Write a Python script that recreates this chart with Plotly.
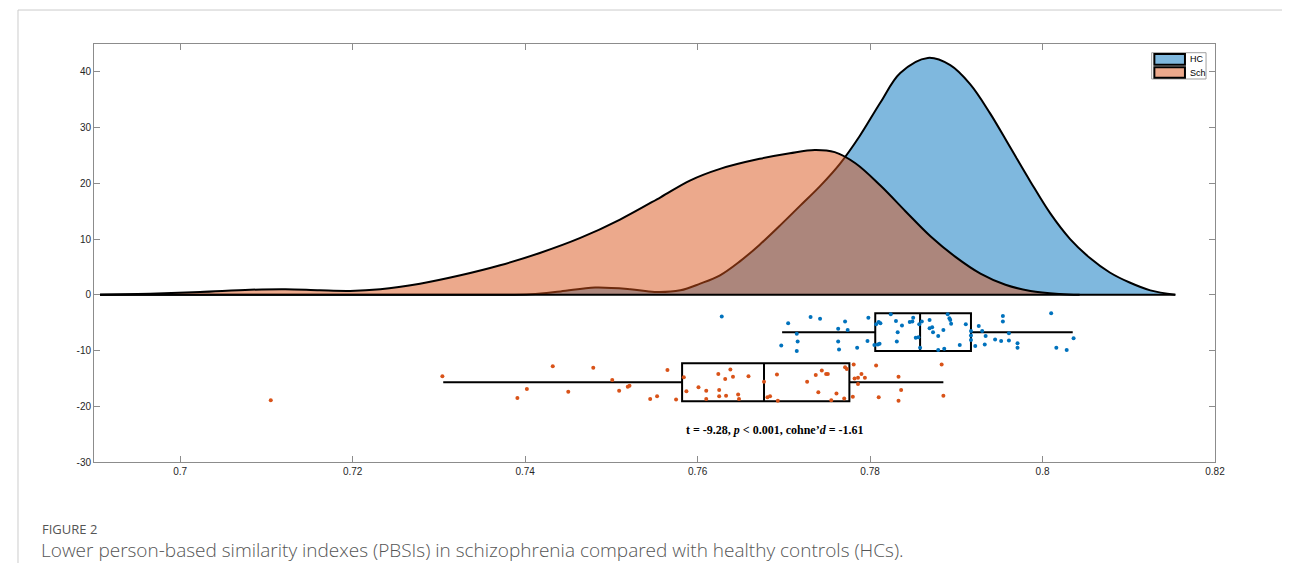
import plotly.graph_objects as go

# ---- density curves ----
hc_curve_x = [0.6907, 0.7300, 0.7406, 0.7441, 0.7481, 0.7522, 0.7550, 0.7580, 0.7603,
              0.7626, 0.7649, 0.7672, 0.7696, 0.7719, 0.7742, 0.7765, 0.7788, 0.7812,
              0.7835, 0.7867, 0.7893, 0.7916, 0.7939, 0.7962, 0.7986, 0.8009, 0.8032,
              0.8055, 0.8078, 0.8101, 0.8125, 0.8154]
hc_curve_y = [0.0, 0.0, 0.1, 0.6, 1.3, 1.0, 0.5, 0.8, 2.0,
              3.5, 6.0, 9.0, 12.5, 16.0, 19.5, 23.5, 28.5, 34.5,
              39.8, 42.5, 41.2, 37.8, 32.6, 26.6, 20.3, 14.6, 10.0,
              6.6, 4.0, 2.2, 0.8, 0.0]

sch_curve_x = [0.6907, 0.6965, 0.7023, 0.7081, 0.7122, 0.7162, 0.7197, 0.7232, 0.7278,
               0.7325, 0.7371, 0.7417, 0.7464, 0.7510, 0.7557, 0.7591, 0.7626, 0.7672,
               0.7707, 0.7736, 0.7759, 0.7783, 0.7812, 0.7841, 0.7870, 0.7899, 0.7928,
               0.7957, 0.7986, 0.8020, 0.8043]
sch_curve_y = [0.0, 0.2, 0.5, 0.9, 1.0, 0.8, 0.7, 1.0, 2.0,
               3.5, 5.3, 7.5, 10.2, 13.5, 17.5, 20.5, 22.6, 24.4,
               25.4, 26.0, 25.6, 23.6, 19.6, 15.0, 10.5, 6.8, 3.8,
               1.8, 0.7, 0.15, 0.0]

# ---- jittered raw points ----
hc_x = [0.7628, 0.7705, 0.7731, 0.7742, 0.7771, 0.7798, 0.7763, 0.7774, 0.7715, 0.7716,
        0.7697, 0.7715, 0.7763, 0.7764, 0.7785, 0.7797, 0.7807, 0.7810, 0.7812, 0.7805,
        0.7809, 0.7811, 0.7824, 0.7830, 0.7832, 0.7831, 0.7837, 0.7846, 0.7849, 0.7850,
        0.7853, 0.7856, 0.7857, 0.7860, 0.7858, 0.7869, 0.7869, 0.7872, 0.7873, 0.7879,
        0.7879, 0.7886, 0.7885, 0.7890, 0.7892, 0.7893, 0.7894, 0.7904, 0.7911, 0.7917,
        0.7917, 0.7917, 0.7922, 0.7926, 0.7930, 0.7934, 0.7933, 0.7945, 0.7952, 0.7954,
        0.7954, 0.7961, 0.7961, 0.7971, 0.7971, 0.8010, 0.8016, 0.8028, 0.8036]
hc_y = [-3.9, -5.1, -4.0, -4.3, -4.8, -4.1, -6.1, -6.3, -7.0, -8.4,
        -9.1, -10.1, -8.4, -9.8, -9.5, -8.3, -5.3, -4.9, -5.1, -9.0,
        -8.9, -8.8, -3.5, -4.7, -6.7, -8.4, -5.5, -4.9, -4.8, -4.1,
        -7.7, -7.6, -5.3, -4.8, -9.5, -4.5, -6.0, -5.8, -6.7, -7.4,
        -9.9, -9.7, -6.3, -3.5, -4.2, -4.5, -5.2, -9.0, -5.3, -6.5,
        -7.3, -8.1, -9.2, -5.6, -6.5, -7.4, -8.9, -8.0, -8.3, -3.8,
        -4.8, -6.9, -8.2, -8.7, -9.5, -3.3, -9.5, -9.9, -7.8]

sch_x = [0.7105, 0.7304, 0.7432, 0.7479, 0.7565, 0.7501, 0.7402, 0.7391, 0.7450, 0.7509,
         0.7519, 0.7521, 0.7545, 0.7553, 0.7575, 0.7584, 0.7587, 0.7601, 0.7610, 0.7610,
         0.7624, 0.7625, 0.7625, 0.7632, 0.7633, 0.7638, 0.7641, 0.7647, 0.7648, 0.7659,
         0.7677, 0.7681, 0.7684, 0.7692, 0.7693, 0.7727, 0.7737, 0.7740, 0.7744, 0.7749,
         0.7751, 0.7755, 0.7761, 0.7770, 0.7771, 0.7773, 0.7780, 0.7781, 0.7782, 0.7786,
         0.7786, 0.7790, 0.7794, 0.7807, 0.7810, 0.7833, 0.7836, 0.7833, 0.7883, 0.7885]
sch_y = [-18.9, -14.6, -12.8, -13.1, -13.5, -15.3, -16.9, -18.5, -17.4, -17.2,
         -16.5, -16.3, -18.7, -18.2, -18.8, -14.8, -17.3, -16.6, -17.2, -18.7,
         -14.2, -17.1, -18.2, -15.1, -18.1, -13.4, -14.7, -17.9, -18.7, -14.6,
         -15.6, -18.4, -18.2, -14.3, -19.0, -15.6, -14.4, -17.5, -13.6, -14.2,
         -14.2, -18.9, -17.7, -18.6, -13.0, -13.3, -18.3, -12.5, -15.0, -14.9,
         -16.0, -14.2, -14.9, -12.7, -18.4, -14.7, -17.1, -19.0, -12.5, -18.1]

# ---- box statistics ----
groups = ["HC", "Sch"]
box_pos = [-6.7, -15.7]
box_q1 = [0.7806, 0.7582]
box_median = [0.7858, 0.7677]
box_q3 = [0.7917, 0.7776]
box_low = [0.7698, 0.7305]
box_high = [0.8035, 0.7885]
box_width = 6.8

x_ticks = [0.7, 0.72, 0.74, 0.76, 0.78, 0.8, 0.82]
x_tick_labels = ["0.7", "0.72", "0.74", "0.76", "0.78", "0.8", "0.82"]
y_ticks = [-30, -20, -10, 0, 10, 20, 30, 40]
y_tick_labels = ["-30", "-20", "-10", "0", "10", "20", "30", "40"]

blue = "rgb(0,114,189)"
orange = "rgb(217,83,25)"
blue_fill = "rgba(0,114,189,0.5)"
orange_fill = "rgba(217,83,25,0.5)"
legend_colors = ["rgb(127,184,222)", "rgb(236,169,140)"]

fig = go.Figure()

fig.add_trace(go.Scatter(x=hc_curve_x, y=hc_curve_y, mode="lines", fill="tozeroy",
                         fillcolor=blue_fill, line=dict(color="black", width=2, shape="spline"),
                         name="HC", showlegend=False))
fig.add_trace(go.Scatter(x=sch_curve_x, y=sch_curve_y, mode="lines", fill="tozeroy",
                         fillcolor=orange_fill, line=dict(color="black", width=2, shape="spline"),
                         name="Sch", showlegend=False))
base_x = [min(hc_curve_x + sch_curve_x), max(hc_curve_x + sch_curve_x)]
fig.add_trace(go.Scatter(x=base_x, y=[0, 0], mode="lines",
                         line=dict(color="black", width=2), showlegend=False, hoverinfo="skip"))

fig.add_trace(go.Scatter(x=hc_x, y=hc_y, mode="markers",
                         marker=dict(color=blue, size=4), showlegend=False))
fig.add_trace(go.Scatter(x=sch_x, y=sch_y, mode="markers",
                         marker=dict(color=orange, size=4), showlegend=False))

for i, g in enumerate(groups):
    fig.add_trace(go.Box(y=[box_pos[i]], q1=[box_q1[i]], median=[box_median[i]], q3=[box_q3[i]],
                         lowerfence=[box_low[i]], upperfence=[box_high[i]],
                         orientation="h", width=box_width, whiskerwidth=0,
                         fillcolor="rgba(0,0,0,0)", line=dict(color="black", width=2),
                         boxpoints=False, showlegend=False, name=g, hoverinfo="skip"))

fig.add_annotation(x=0.7690, y=-24.2, xref="x", yref="y", showarrow=False,
                   text="<b>t = -9.28, <i>p</i> &lt; 0.001, cohne’<i>d</i> = -1.61</b>",
                   font=dict(family="Liberation Serif", size=12, color="black"))

# ---- legend (drawn manually, MATLAB style) ----
fig.add_shape(type="rect", xref="paper", yref="paper", x0=0.9435, x1=0.9920, y0=0.9163, y1=0.9792,
              line=dict(color="#a0a0a0", width=1), fillcolor="white", layer="above")
sw_y0 = [0.9505, 0.9194]
sw_y1 = [0.9761, 0.9443]
txt_y = [0.9634, 0.9318]
for i, g in enumerate(groups):
    fig.add_shape(type="rect", xref="paper", yref="paper", x0=0.9459, x1=0.9732,
                  y0=sw_y0[i], y1=sw_y1[i], fillcolor=legend_colors[i],
                  line=dict(color="black", width=2), layer="above")
    fig.add_annotation(x=0.9756, y=txt_y[i], xref="paper", yref="paper", xanchor="left",
                       yanchor="middle", showarrow=False, text=g,
                       font=dict(family="Liberation Sans", size=9, color="black"))

# caption
fig.add_annotation(x=-0.048, y=-0.1603, xref="paper", yref="paper", xanchor="left", yanchor="middle",
                   showarrow=False, text="FIGURE 2",
                   font=dict(family="Open Sans", size=13, color="#555555"))
fig.add_annotation(x=-0.049, y=-0.2105, xref="paper", yref="paper", xanchor="left", yanchor="middle",
                   showarrow=False,
                   text="Lower person-based similarity indexes (PBSIs) in schizophrenia compared with healthy controls (HCs).",
                   font=dict(family="Open Sans", size=19, color="#555555", weight=300))

# page frame lines
fig.add_shape(type="line", xref="paper", yref="paper", x0=-0.0678, x1=-0.0678, y0=1.0813, y1=-0.25,
              line=dict(color="#cccccc", width=1))
fig.add_shape(type="line", xref="paper", yref="paper", x0=-0.0678, x1=1.08, y0=1.0813, y1=1.0813,
              line=dict(color="#cccccc", width=1))

axis_col = "#8c8c8c"
fig.update_xaxes(range=[0.69, 0.82], tickvals=x_ticks, ticktext=x_tick_labels,
                 showgrid=False, zeroline=False, showline=True, mirror="ticks",
                 linecolor=axis_col, linewidth=1, ticks="inside", ticklen=6, tickcolor=axis_col,
                 tickfont=dict(family="Liberation Sans", size=10, color="#262626"))
fig.update_yaxes(range=[-30, 45], tickvals=y_ticks, ticktext=y_tick_labels,
                 showgrid=False, zeroline=False, showline=True, mirror="ticks",
                 linecolor=axis_col, linewidth=1, ticks="inside", ticklen=6, tickcolor=axis_col,
                 tickfont=dict(family="Liberation Sans", size=10, color="#262626"))

# page body adds an 8px margin, so the figure is 8px smaller and offset accordingly
fig.update_layout(width=1282, height=555, margin=dict(l=86, r=75, t=36, b=101),
                  plot_bgcolor="white", paper_bgcolor="white", showlegend=False)

fig.write_html("out.html")
